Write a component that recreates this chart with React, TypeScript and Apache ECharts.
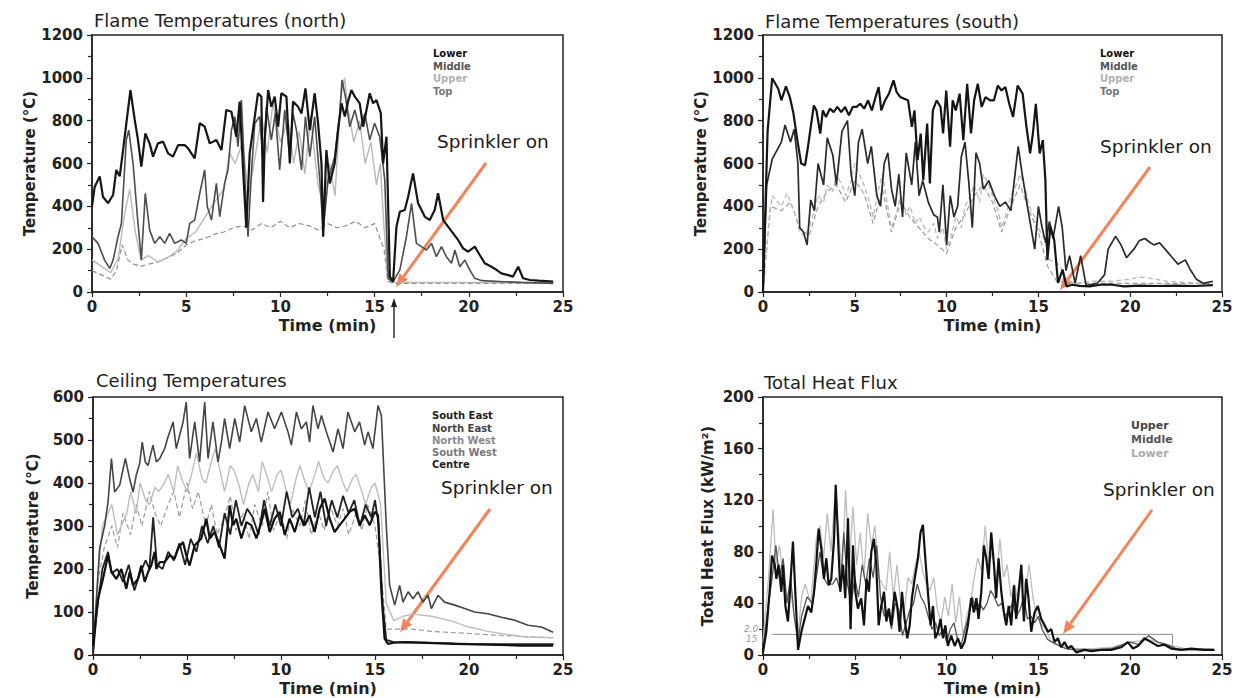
import React, { useEffect, useRef } from "react";
import * as echarts from "echarts";

type P = [number, number];

// ---------- Flame Temperatures (north) ----------
const northLower: P[] = [[0,400],[0.14,490],[0.41,540],[0.58,445],[0.85,415],[1.12,453],[1.29,570],[1.47,540],[1.65,663],[2.04,943],[2.27,803],[2.44,710],[2.62,585],[2.83,740],[3.06,694],[3.24,632],[3.5,694],[3.77,702],[4.04,647],[4.3,632],[4.57,686],[4.92,686],[5.1,671],[5.45,624],[5.72,788],[5.98,772],[6.25,694],[6.6,710],[6.87,663],[7.13,850],[7.4,842],[7.66,725],[7.84,889],[8.02,570],[8.19,300],[8.37,647],[8.64,819],[8.81,928],[8.99,912],[9.08,420],[9.17,710],[9.35,943],[9.52,865],[9.7,912],[9.88,772],[10.05,928],[10.32,912],[10.5,600],[10.67,889],[10.94,865],[11.12,834],[11.33,951],[11.56,756],[11.82,928],[12.0,788],[12.18,600],[12.27,258],[12.44,663],[12.62,507],[12.88,600],[13.06,756],[13.24,881],[13.42,819],[13.59,889],[13.77,943],[13.95,912],[14.21,881],[14.39,772],[14.57,850],[14.74,928],[14.92,881],[15.1,896],[15.33,834],[15.45,600],[15.63,725],[15.81,72],[15.98,48],[16.16,305],[16.34,375],[16.6,383],[16.78,445],[17.04,554],[17.31,414],[17.66,352],[17.93,336],[18.19,383],[18.37,461],[18.64,336],[18.9,305],[19.17,274],[19.43,243],[19.7,204],[19.96,188],[20.32,212],[20.58,173],[20.85,134],[21.2,118],[21.47,103],[21.73,87],[22.09,79],[22.35,72],[22.62,118],[22.88,64],[23.24,56],[23.68,53],[24.48,48]];
const northMiddle: P[] = [[0,258],[0.32,227],[0.67,149],[0.94,110],[1.12,149],[1.38,258],[1.56,320],[1.82,710],[1.95,756],[2.18,600],[2.41,352],[2.62,149],[2.83,461],[3.06,289],[3.33,227],[3.6,258],[3.86,227],[4.12,274],[4.39,227],[4.74,243],[5.0,227],[5.19,320],[5.45,336],[5.72,461],[5.98,570],[6.12,398],[6.34,336],[6.6,507],[6.78,352],[7.04,507],[7.22,570],[7.4,756],[7.58,819],[7.75,679],[7.93,896],[8.1,554],[8.28,258],[8.46,554],[8.64,788],[8.9,819],[9.08,600],[9.26,865],[9.52,710],[9.73,834],[9.96,570],[10.23,850],[10.5,632],[10.67,834],[10.85,756],[11.12,570],[11.33,819],[11.56,632],[11.82,819],[12.09,523],[12.27,289],[12.53,523],[12.88,632],[13.15,834],[13.27,990],[13.45,912],[13.68,772],[13.95,850],[14.21,756],[14.48,834],[14.74,710],[15.0,788],[15.27,725],[15.54,523],[15.72,64],[15.98,48],[16.34,103],[16.69,258],[16.96,414],[17.22,227],[17.49,212],[17.75,196],[18.02,227],[18.28,165],[18.55,212],[18.81,165],[19.08,134],[19.26,196],[19.52,118],[19.79,149],[20.05,103],[20.32,64],[20.7,53],[21.9,48],[22.8,45],[24.48,40]];
const northUpper: P[] = [[0,150],[0.5,120],[1.0,90],[1.4,160],[1.7,350],[2.0,480],[2.3,280],[2.6,150],[3.0,170],[3.5,140],[4.0,160],[4.5,190],[5.0,250],[5.5,280],[6.0,350],[6.5,420],[7.0,480],[7.3,650],[7.6,600],[8.0,700],[8.3,450],[8.6,600],[9.0,820],[9.3,650],[9.6,880],[10.0,700],[10.4,800],[10.7,600],[11.0,750],[11.3,550],[11.6,820],[12.0,500],[12.3,400],[12.6,600],[12.9,450],[13.2,900],[13.4,1000],[13.6,850],[13.9,700],[14.2,800],[14.5,600],[14.8,700],[15.1,500],[15.3,600],[15.5,300],[15.7,60],[16.0,45],[17.0,45],[20.0,45],[22.0,44],[24.5,42]];
const northTop: P[] = [[0,100],[0.5,80],[1.0,60],[1.3,100],[1.6,220],[1.9,150],[2.2,130],[2.6,120],[3.0,130],[3.5,140],[4.0,160],[4.5,180],[5.0,220],[5.5,240],[6.0,250],[6.5,270],[7.0,280],[7.5,300],[8.0,310],[8.5,290],[9.0,320],[9.5,300],[10.0,330],[10.5,300],[11.0,320],[11.5,310],[12.0,290],[12.5,320],[13.0,300],[13.5,310],[14.0,330],[14.5,300],[15.0,320],[15.5,200],[15.7,50],[16.0,40],[24.5,40]];

// ---------- Flame Temperatures (south) ----------
const southLower: P[] = [[0,0],[0.1,300],[0.25,750],[0.5,998],[0.83,949],[1.0,895],[1.25,960],[1.46,910],[1.66,833],[1.87,709],[2.08,600],[2.29,592],[2.45,678],[2.6,771],[2.77,871],[2.91,848],[3.12,740],[3.26,848],[3.43,817],[3.64,856],[3.85,840],[4.05,864],[4.26,840],[4.47,864],[4.68,825],[4.89,864],[5.09,864],[5.3,879],[5.51,856],[5.72,895],[5.93,848],[6.13,910],[6.3,957],[6.44,848],[6.65,895],[6.86,926],[7.11,988],[7.28,933],[7.48,910],[7.69,902],[7.9,895],[8.11,771],[8.25,848],[8.42,616],[8.59,740],[8.73,522],[8.94,786],[9.09,507],[9.25,848],[9.46,895],[9.67,864],[9.81,740],[9.98,941],[10.19,678],[10.33,895],[10.5,848],[10.71,926],[10.91,709],[11.12,972],[11.33,740],[11.5,895],[11.7,972],[11.91,864],[12.12,910],[12.37,895],[12.58,895],[12.79,964],[12.99,941],[13.2,957],[13.41,879],[13.62,817],[13.87,964],[14.14,926],[14.35,771],[14.55,647],[14.7,740],[14.86,879],[15.07,647],[15.24,709],[15.38,522],[15.49,150],[15.65,305],[15.86,243],[16.07,42],[16.32,104],[16.53,26],[16.84,34],[17.26,29],[17.78,26],[18.4,34],[19.02,34],[19.65,26],[20.5,30],[21.5,28],[22.5,30],[23.5,28],[24.5,32]];
const southMiddle: P[] = [[0,0],[0.2,500],[0.5,620],[1.0,700],[1.2,780],[1.5,700],[1.7,760],[1.9,600],[2.0,300],[2.2,280],[2.4,220],[2.6,430],[2.8,380],[3.0,600],[3.3,500],[3.5,720],[3.8,640],[4.0,500],[4.3,750],[4.6,800],[4.8,550],[5.0,450],[5.2,700],[5.4,760],[5.7,600],[5.9,680],[6.2,450],[6.4,400],[6.6,600],[6.8,650],[7.0,480],[7.2,400],[7.4,550],[7.6,350],[7.8,650],[8.1,500],[8.3,700],[8.5,450],[8.7,520],[9.0,420],[9.3,360],[9.5,350],[9.6,280],[9.8,500],[10.0,220],[10.2,450],[10.4,350],[10.6,400],[10.8,630],[11.0,700],[11.2,520],[11.4,300],[11.6,650],[11.8,600],[12.0,480],[12.3,520],[12.6,450],[12.9,400],[13.2,420],[13.5,380],[13.9,680],[14.1,560],[14.4,400],[14.6,300],[14.8,200],[15.0,400],[15.2,300],[15.4,230],[15.6,330],[15.8,250],[16.1,400],[16.3,300],[16.5,100],[16.7,170],[17.0,40],[17.3,170],[17.6,30],[18.2,40],[18.6,80],[18.8,200],[19.2,260],[19.5,220],[19.8,160],[20.2,200],[20.5,240],[20.8,250],[21.1,230],[21.3,220],[21.6,230],[21.9,200],[22.3,160],[22.6,130],[23.0,150],[23.3,100],[23.6,60],[24.0,40],[24.5,50]];
const southUpper: P[] = [[0,0],[0.3,300],[0.5,450],[0.8,420],[1.0,400],[1.3,460],[1.5,420],[1.8,350],[2.0,280],[2.3,260],[2.5,300],[2.8,380],[3.0,450],[3.3,420],[3.5,500],[3.8,470],[4.0,550],[4.3,500],[4.5,450],[4.8,520],[5.0,600],[5.3,540],[5.5,500],[5.8,420],[6.0,350],[6.3,480],[6.5,550],[6.8,400],[7.0,300],[7.3,380],[7.5,450],[7.8,360],[8.0,400],[8.3,320],[8.5,350],[8.8,300],[9.0,280],[9.3,320],[9.5,250],[9.8,300],[10.0,200],[10.3,280],[10.5,350],[10.8,300],[11.0,400],[11.3,450],[11.5,500],[11.8,420],[12.0,550],[12.3,500],[12.5,450],[12.8,380],[13.0,300],[13.3,380],[13.5,450],[13.8,500],[14.0,550],[14.3,480],[14.5,400],[14.8,350],[15.0,300],[15.3,250],[15.6,150],[16.0,140],[16.3,100],[16.5,60],[17.0,40],[18.0,50],[19.0,50],[20.0,60],[20.5,70],[21.0,65],[22.0,50],[23.0,45],[24.0,40],[24.5,45]];
const southTop: P[] = [[0,0],[0.4,400],[1.0,380],[1.5,420],[2.0,300],[2.5,260],[3.0,400],[3.5,470],[4.0,500],[4.5,420],[5.0,520],[5.5,460],[6.0,320],[6.5,480],[7.0,280],[7.5,420],[8.0,350],[8.5,300],[9.0,250],[9.5,220],[10.0,180],[10.5,300],[11.0,360],[11.5,450],[12.0,500],[12.5,420],[13.0,280],[13.5,400],[14.0,500],[14.5,380],[15.0,280],[15.5,120],[16.0,50],[17.0,40],[24.5,40]];

// ---------- Ceiling Temperatures ----------
const ceilNorthEast: P[] = [[0,7],[0.35,247],[0.62,301],[0.8,356],[0.98,457],[1.15,379],[1.42,395],[1.72,457],[1.95,410],[2.13,379],[2.3,418],[2.48,445],[2.62,495],[2.78,449],[2.93,441],[3.19,488],[3.37,449],[3.55,457],[3.81,480],[3.99,507],[4.26,542],[4.43,480],[4.61,511],[4.79,542],[4.96,588],[5.14,457],[5.41,542],[5.67,449],[5.94,588],[6.12,457],[6.38,542],[6.65,449],[6.83,495],[7.0,550],[7.27,480],[7.54,550],[7.8,495],[8.07,580],[8.42,519],[8.69,550],[8.95,495],[9.31,565],[9.66,526],[10.02,565],[10.37,519],[10.55,488],[10.82,565],[11.08,526],[11.35,542],[11.52,495],[11.7,580],[11.97,526],[12.15,557],[12.41,519],[12.77,472],[13.03,526],[13.3,480],[13.56,565],[13.92,519],[14.18,542],[14.45,488],[14.63,519],[14.89,480],[15.16,580],[15.34,557],[15.6,301],[15.78,162],[16.05,116],[16.31,162],[16.49,123],[16.76,147],[17.02,131],[17.29,147],[17.55,123],[17.82,139],[18.0,108],[18.35,139],[18.7,123],[19.24,116],[19.77,108],[20.3,100],[21.0,96],[21.72,88],[22.43,81],[23.14,69],[23.85,65],[24.47,53]];
const ceilSouthEast: P[] = [[0,22],[0.27,131],[0.53,177],[0.8,232],[0.98,193],[1.24,177],[1.51,200],[1.77,154],[1.95,193],[2.13,162],[2.39,177],[2.57,208],[2.75,170],[2.93,193],[3.1,208],[3.28,240],[3.37,200],[3.55,216],[3.81,216],[4.08,232],[4.34,224],[4.52,247],[4.79,263],[4.96,232],[5.14,208],[5.41,255],[5.76,271],[6.03,317],[6.21,271],[6.47,286],[6.74,255],[7.0,224],[7.27,348],[7.45,302],[7.62,317],[7.89,271],[8.16,309],[8.42,302],[8.69,271],[8.95,309],[9.13,340],[9.4,286],[9.66,317],[9.93,333],[10.2,279],[10.46,317],[10.73,286],[10.99,325],[11.26,302],[11.52,325],[11.79,286],[12.06,340],[12.32,364],[12.59,317],[12.85,286],[13.12,302],[13.39,317],[13.65,333],[13.92,340],[14.18,302],[14.45,325],[14.72,302],[14.98,333],[15.16,325],[15.34,147],[15.51,38],[15.69,26],[16.05,29],[16.58,30],[17.46,29],[19.24,26],[21.01,24],[22.78,22],[24.47,22]];
const ceilNorthWest: P[] = [[0,0],[0.3,200],[0.5,300],[1.0,350],[1.3,280],[1.5,300],[1.8,330],[2.0,380],[2.3,330],[2.5,400],[2.8,360],[3.0,350],[3.3,390],[3.5,380],[3.8,400],[4.0,420],[4.3,380],[4.5,440],[4.8,400],[5.0,380],[5.3,430],[5.5,470],[5.8,410],[6.0,400],[6.3,450],[6.5,480],[6.8,420],[7.0,380],[7.3,440],[7.5,430],[7.8,390],[8.0,350],[8.3,400],[8.5,420],[8.8,380],[9.0,450],[9.3,410],[9.5,380],[9.8,420],[10.0,430],[10.3,380],[10.5,350],[10.8,410],[11.0,440],[11.3,400],[11.5,380],[11.8,420],[12.0,450],[12.3,410],[12.5,400],[12.8,430],[13.0,440],[13.3,400],[13.5,380],[13.8,410],[14.0,420],[14.3,380],[14.5,350],[14.8,390],[15.0,400],[15.3,350],[15.6,120],[16.0,80],[16.5,90],[17.0,95],[18.0,90],[19.0,80],[20.0,65],[21.0,55],[22.0,48],[23.0,42],[24.5,40]];
const ceilSouthWest: P[] = [[0,0],[0.3,180],[0.6,250],[1.0,300],[1.3,250],[1.6,330],[2.0,280],[2.3,350],[2.6,300],[3.0,380],[3.3,330],[3.6,300],[4.0,350],[4.3,380],[4.6,320],[5.0,400],[5.3,340],[5.6,380],[6.0,300],[6.3,350],[6.6,280],[7.0,320],[7.3,370],[7.6,290],[8.0,330],[8.3,270],[8.6,350],[9.0,300],[9.3,380],[9.6,290],[10.0,330],[10.3,270],[10.6,340],[11.0,300],[11.3,360],[11.6,280],[12.0,330],[12.3,290],[12.6,350],[13.0,300],[13.3,340],[13.6,280],[14.0,330],[14.3,290],[14.6,350],[15.0,300],[15.3,200],[15.6,60],[16.0,60],[17.0,60],[18.0,55],[20.0,50],[22.0,45],[24.5,40]];
const ceilCentre: P[] = [[0,0],[0.2,100],[0.5,200],[0.8,240],[1.0,190],[1.3,200],[1.6,170],[1.9,210],[2.2,150],[2.5,190],[2.8,220],[3.0,200],[3.2,320],[3.4,210],[3.7,200],[4.0,240],[4.3,220],[4.6,260],[4.9,210],[5.2,270],[5.5,240],[5.8,300],[6.1,260],[6.4,300],[6.7,250],[7.0,330],[7.3,280],[7.6,360],[7.9,300],[8.2,340],[8.5,320],[8.8,280],[9.1,360],[9.4,300],[9.7,350],[10.0,300],[10.3,380],[10.6,320],[10.9,340],[11.2,300],[11.5,390],[11.8,320],[12.1,380],[12.4,300],[12.7,360],[13.0,320],[13.3,370],[13.6,330],[13.9,360],[14.2,300],[14.5,350],[14.8,320],[15.0,360],[15.2,300],[15.4,120],[15.6,35],[16.0,30],[18.0,28],[20.0,26],[22.0,25],[24.5,25]];

// ---------- Total Heat Flux ----------
const fluxUpper: P[] = [[0,2],[0.18,18],[0.36,49],[0.49,77],[0.64,70],[0.73,59],[0.85,70],[1.0,49],[1.09,70],[1.22,38],[1.36,26],[1.49,54],[1.63,88],[1.76,49],[1.91,4],[2.09,18],[2.27,28],[2.45,38],[2.63,33],[2.78,49],[2.9,70],[3.03,98],[3.18,82],[3.32,59],[3.45,75],[3.58,54],[3.72,59],[3.87,90],[3.96,132],[4.08,93],[4.21,49],[4.36,70],[4.48,44],[4.63,106],[4.77,20],[4.9,85],[5.03,49],[5.17,36],[5.35,44],[5.5,23],[5.64,59],[5.77,49],[5.9,80],[6.04,90],[6.17,70],[6.3,23],[6.44,38],[6.59,49],[6.72,26],[6.86,36],[6.99,23],[7.17,49],[7.31,38],[7.44,18],[7.57,49],[7.71,28],[7.86,13],[7.99,23],[8.11,44],[8.26,59],[8.44,75],[8.58,95],[8.71,101],[8.84,75],[8.98,49],[9.13,23],[9.26,38],[9.38,13],[9.53,18],[9.67,28],[9.8,13],[9.93,23],[10.07,7],[10.25,15],[10.44,7],[10.62,13],[10.8,5],[10.98,10],[11.16,23],[11.34,44],[11.49,33],[11.62,44],[11.74,28],[11.89,49],[12.03,85],[12.16,75],[12.29,59],[12.43,95],[12.58,70],[12.7,44],[12.83,75],[12.98,49],[13.12,33],[13.25,23],[13.38,38],[13.52,23],[13.67,54],[13.79,28],[13.92,49],[14.07,70],[14.21,26],[14.34,59],[14.46,44],[14.61,18],[14.79,33],[14.97,38],[15.15,28],[15.34,23],[15.52,18],[15.7,20],[15.88,10],[16.06,13],[16.24,6],[16.42,10],[16.61,5],[16.79,7],[17.06,2],[17.51,4],[17.88,3],[18.42,4],[18.97,4],[19.51,6],[19.87,10],[20.15,5],[20.42,7],[20.78,13],[21.14,10],[21.51,7],[21.87,8],[22.23,5],[22.78,4],[23.32,5],[24.05,4],[24.6,4]];
const fluxMiddle: P[] = [[0,5],[0.3,40],[0.5,60],[0.7,85],[0.9,60],[1.1,75],[1.3,40],[1.5,60],[1.7,30],[1.9,10],[2.1,30],[2.4,45],[2.7,40],[2.9,60],[3.1,80],[3.3,60],[3.5,55],[3.8,55],[4.0,60],[4.2,50],[4.4,95],[4.6,55],[4.8,40],[5.0,60],[5.2,45],[5.4,70],[5.6,55],[5.8,75],[6.0,60],[6.2,85],[6.4,45],[6.6,30],[6.8,35],[7.0,20],[7.2,40],[7.4,35],[7.6,15],[7.8,25],[8.0,35],[8.2,40],[8.4,55],[8.6,45],[8.8,40],[9.0,30],[9.2,20],[9.4,25],[9.6,15],[9.8,20],[10.0,10],[10.2,20],[10.4,25],[10.6,12],[10.8,8],[11.0,20],[11.2,30],[11.4,45],[11.6,35],[11.8,40],[12.0,35],[12.2,40],[12.4,50],[12.6,45],[12.8,38],[13.0,40],[13.2,30],[13.4,35],[13.6,40],[13.8,30],[14.0,35],[14.2,45],[14.4,28],[14.6,30],[14.8,25],[15.0,30],[15.2,20],[15.5,12],[16.0,8],[16.5,5],[17.0,4],[18.0,4],[19.0,5],[20.0,10],[20.5,8],[21.0,15],[21.5,10],[22.0,8],[22.5,5],[23.0,4],[24.0,4],[24.5,4]];
const fluxLower: P[] = [[0,10],[0.3,60],[0.55,113],[0.7,70],[0.9,85],[1.1,60],[1.3,45],[1.5,50],[1.7,30],[1.9,15],[2.1,45],[2.3,55],[2.6,40],[2.9,90],[3.1,100],[3.3,75],[3.5,110],[3.7,80],[3.9,120],[4.1,100],[4.3,60],[4.5,128],[4.7,70],[4.9,115],[5.1,70],[5.3,95],[5.5,60],[5.7,110],[5.9,85],[6.1,100],[6.3,60],[6.5,55],[6.7,50],[6.9,80],[7.1,45],[7.3,70],[7.5,40],[7.7,35],[7.9,60],[8.1,55],[8.3,70],[8.5,80],[8.7,65],[8.9,55],[9.1,50],[9.3,60],[9.5,35],[9.7,25],[9.9,45],[10.1,30],[10.3,55],[10.5,25],[10.7,45],[10.9,15],[11.1,30],[11.3,40],[11.5,60],[11.7,75],[11.9,65],[12.1,100],[12.3,70],[12.5,80],[12.7,55],[12.9,90],[13.1,60],[13.3,70],[13.5,45],[13.7,55],[13.9,40],[14.1,65],[14.3,50],[14.5,70],[14.7,45],[14.9,30],[15.1,25],[15.4,20],[15.7,10],[16.0,8],[17.0,5],[18.0,5],[19.0,6],[20.0,10],[21.0,12],[22.0,8],[23.0,5],[24.5,5]];
const fluxReference: P[] = [[0.5,16],[22.3,16],[22.3,4]];

const FONT = '"DejaVu Sans", "Noto Sans", sans-serif';
const ORANGE = "#F2845C";

const grids = [
  { left: 92, top: 35, width: 471, height: 257 },
  { left: 763, top: 35, width: 459, height: 257 },
  { left: 93, top: 397, width: 470, height: 258 },
  { left: 763, top: 397, width: 459, height: 258 },
];
const yMax = [1200, 1200, 600, 200];
const yStep = [200, 200, 100, 40];
const yNames = ["Temperature (°C)", "Temperature (°C)", "Temperature (°C)", "Total Heat Flux (kW/m²)"];

function mk(name: string, data: P[], idx: number, color: string, width: number, dash = false, z = 2) {
  return {
    type: "line", name, data, xAxisIndex: idx, yAxisIndex: idx,
    showSymbol: false, symbol: "none", silent: true, z,
    lineStyle: { color, width, type: dash ? [5, 3] : "solid" },
  };
}

function txt(x: number, y: number, text: string, size: number, color: string, weight = "normal", align = "left", family = FONT) {
  return {
    type: "text", x, y, silent: true,
    style: { text, fill: color, font: `${weight} ${size}px ${family}`, align, verticalAlign: "middle", textAlign: align, textVerticalAlign: "middle" },
  };
}

function arrow(x1: number, y1: number, x2: number, y2: number, color: string, width: number, head: number, half: number) {
  const dx = x2 - x1, dy = y2 - y1;
  const len = Math.sqrt(dx * dx + dy * dy);
  const ux = dx / len, uy = dy / len;
  const bx = x2 - ux * head, by = y2 - uy * head;
  const px = -uy, py = ux;
  return [
    { type: "line", silent: true, shape: { x1, y1, x2: bx, y2: by }, style: { stroke: color, lineWidth: width } },
    { type: "polygon", silent: true, shape: { points: [[x2, y2], [bx + px * half, by + py * half], [bx - px * half, by - py * half]] }, style: { fill: color } },
  ];
}

export default function App() {
  const ref = useRef<HTMLDivElement>(null);
  useEffect(() => {
    if (!ref.current) return;
    const chart = echarts.init(ref.current, null, { renderer: "svg" });
    const labelStyle = { fontFamily: FONT, fontWeight: "bold", fontSize: 15, color: "#222" };
    const xAxis = grids.map((_, i) => ({
      gridIndex: i, type: "value", min: 0, max: 25, interval: 5,
      name: "Time (min)", nameLocation: "middle", nameGap: 25,
      nameTextStyle: { fontFamily: FONT, fontWeight: "bold", fontSize: 16, color: "#222" },
      axisLine: { show: true, onZero: false, lineStyle: { color: "#222", width: 1.5 } },
      axisTick: { show: true, inside: false, length: 5, lineStyle: { color: "#222", width: 1.2 } },
      minorTick: { show: true, splitNumber: 2, length: 4, lineStyle: { color: "#222", width: 1.2 } },
      axisLabel: { ...labelStyle, margin: 7, formatter: (v: number) => String(v) },
      splitLine: { show: false },
    }));
    const yAxis = grids.map((_, i) => ({
      gridIndex: i, type: "value", min: 0, max: yMax[i], interval: yStep[i],
      name: yNames[i], nameLocation: "middle", nameGap: i === 3 ? 48 : 53, nameRotate: 90,
      nameTextStyle: { fontFamily: FONT, fontWeight: "bold", fontSize: 15, color: "#222" },
      axisLine: { show: true, lineStyle: { color: "#222", width: 1.5 } },
      axisTick: { show: true, inside: false, length: 5, lineStyle: { color: "#222", width: 1.2 } },
      minorTick: { show: true, splitNumber: 2, length: 4, lineStyle: { color: "#222", width: 1.2 } },
      axisLabel: { ...labelStyle, margin: 9, formatter: (v: number) => String(v) },
      splitLine: { show: false },
    }));
    const series = [
      mk("Top", northTop, 0, "#8f8f8f", 1.2, true, 1),
      mk("Upper", northUpper, 0, "#b8b8b8", 1.4, false, 1),
      mk("Middle", northMiddle, 0, "#4d4d4d", 1.6, false, 2),
      mk("Lower", northLower, 0, "#151515", 2.2, false, 3),
      mk("Top", southTop, 1, "#9a9a9a", 1.2, true, 1),
      mk("Upper", southUpper, 1, "#bdbdbd", 1.4, true, 1),
      mk("Middle", southMiddle, 1, "#2a2a2a", 1.7, false, 2),
      mk("Lower", southLower, 1, "#151515", 2.2, false, 3),
      mk("South West", ceilSouthWest, 2, "#9a9a9a", 1.2, true, 1),
      mk("North West", ceilNorthWest, 2, "#bdbdbd", 1.4, false, 1),
      mk("North East", ceilNorthEast, 2, "#444444", 1.6, false, 2),
      mk("Centre", ceilCentre, 2, "#222222", 1.8, false, 3),
      mk("South East", ceilSouthEast, 2, "#111111", 2.2, false, 3),
      mk("Reference", fluxReference, 3, "#8a8a8a", 1, false, 1),
      mk("Lower", fluxLower, 3, "#bdbdbd", 1.3, false, 1),
      mk("Middle", fluxMiddle, 3, "#555555", 1.3, false, 2),
      mk("Upper", fluxUpper, 3, "#111111", 2.2, false, 3),
    ];
    const graphic: any[] = [
      txt(94, 20, "Flame Temperatures (north)", 18, "#222"),
      txt(765, 21, "Flame Temperatures (south)", 18, "#222"),
      txt(96, 380, "Ceiling Temperatures", 18, "#222"),
      txt(764, 382, "Total Heat Flux", 18, "#222"),
      txt(437, 141, "Sprinkler on", 18.5, "#1a1a1a"),
      txt(1100, 146, "Sprinkler on", 18.5, "#1a1a1a"),
      txt(441, 487, "Sprinkler on", 18.5, "#1a1a1a"),
      txt(1103, 489, "Sprinkler on", 18.5, "#1a1a1a"),
      // legends
      txt(433, 53, "Lower", 10, "#111", "bold"),
      txt(433, 66, "Middle", 10, "#555", "bold"),
      txt(433, 78, "Upper", 10, "#b0b0b0", "bold"),
      txt(433, 91, "Top", 10, "#777", "bold"),
      txt(1100, 53, "Lower", 10, "#111", "bold"),
      txt(1100, 66, "Middle", 10, "#555", "bold"),
      txt(1100, 78, "Upper", 10, "#b0b0b0", "bold"),
      txt(1100, 91, "Top", 10, "#777", "bold"),
      txt(432, 415, "South East", 10, "#222", "bold"),
      txt(432, 428, "North East", 10, "#444", "bold"),
      txt(432, 440, "North West", 10, "#8a8a8a", "bold"),
      txt(432, 452, "South West", 10, "#777", "bold"),
      txt(432, 464, "Centre", 10, "#222", "bold"),
      txt(1131, 425, "Upper", 11, "#444", "bold"),
      txt(1131, 439, "Middle", 11, "#555", "bold"),
      txt(1131, 453, "Lower", 11, "#aaa", "bold"),
      txt(744, 629, "2.0", 9, "#999", "italic"),
      txt(746, 639, "15", 9, "#999", "italic"),
      ...arrow(486, 163, 396, 287, ORANGE, 3, 13, 5.5),
      ...arrow(1150, 167, 1060, 290, ORANGE, 3, 13, 5.5),
      ...arrow(490, 509, 400, 632, ORANGE, 3, 13, 5.5),
      ...arrow(1152, 510, 1063, 634, ORANGE, 3, 13, 5.5),
      ...arrow(394, 338, 394, 298, "#222", 1.4, 9, 3),
    ];
    chart.setOption({
      animation: false,
      backgroundColor: "#ffffff",
      grid: grids.map((g) => ({ ...g, show: true, borderColor: "#222", borderWidth: 1.5, backgroundColor: "transparent", containLabel: false })),
      xAxis, yAxis, series, graphic,
    });
    return () => chart.dispose();
  }, []);
  return <div ref={ref} style={{ position: "fixed", left: 0, top: 0, width: 1251, height: 698, background: "#fff" }} />;
}
